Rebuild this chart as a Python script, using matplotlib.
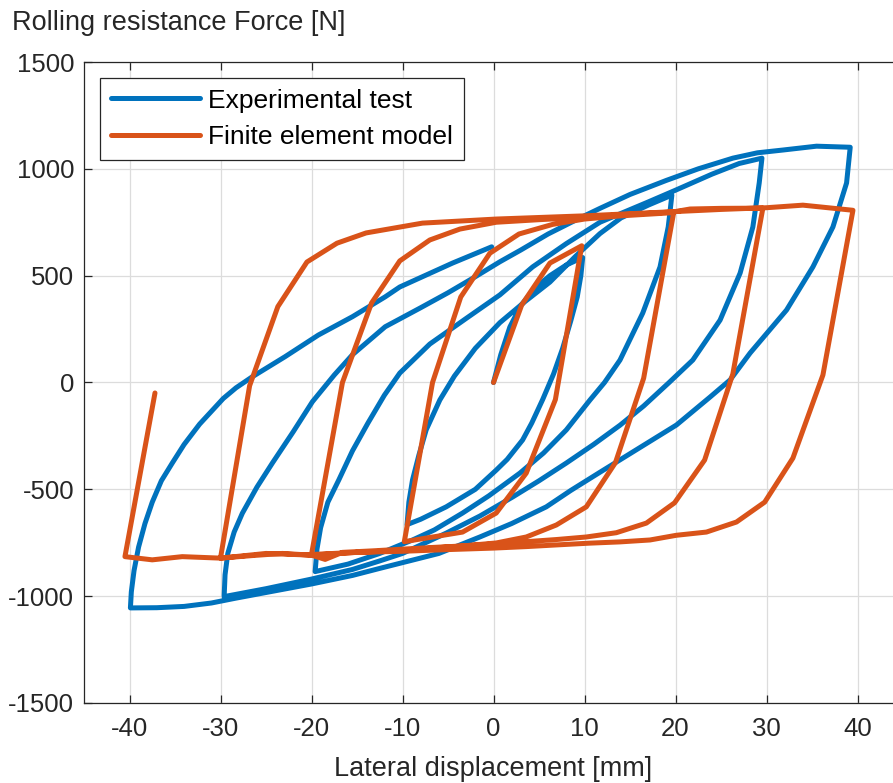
import matplotlib
matplotlib.use("Agg")
import matplotlib.pyplot as plt
import numpy as np

# ---------------- data ----------------
# Experimental test: branches of the hysteresis path (x mm, y N)
exp_initial_x = [0, 0.8, 1.8, 3.0, 4.5, 6.2, 8.0, 9.8]
exp_initial_y = [0, 130, 260, 360, 440, 500, 550, 585]
exp_d10_x = [9.8, 9.6, 9.2, 8.5, 7.6, 6.6, 5.4, 4.2, 3.2, 1.5, 0.3, -2.0, -5.2, -8.0, -9.5]
exp_d10_y = [585, 500, 400, 290, 160, 40, -80, -190, -269, -360, -410, -500, -582, -640, -665]
exp_a20_x = [-9.5, -9.3, -8.9, -8.2, -7.4, -5.9, -4.3, -2.0, 0.7, 3.5, 6.2, 9.0, 11.7, 14.0, 17.0, 19.6]
exp_a20_y = [-665, -560, -456, -340, -222, -82, 30, 160, 280, 380, 470, 590, 697, 770, 830, 877]
exp_d20_x = [19.6, 19.4, 19.2, 18.3, 16.4, 13.9, 12.2, 10.6, 8.0, 5.5, 2.9, -0.5, -3.4, -6.5, -8.9, -12.5, -16.0, -19.6]
exp_d20_y = [877, 800, 728, 541, 325, 105, 0, -82, -222, -330, -424, -530, -611, -690, -737, -800, -850, -885]
exp_a30_x = [-19.6, -19.4, -19.0, -18.2, -17.0, -15.5, -13.8, -12.0, -10.3, -7.0, -3.0, 0.7, 4.3, 8.0, 11.7, 14.5, 17.0, 20.0, 24.0, 27.0, 29.5]
exp_a30_y = [-885, -780, -680, -560, -456, -320, -190, -60, 44, 180, 300, 410, 541, 650, 750, 800, 845, 900, 975, 1025, 1050]
exp_d30_x = [29.5, 29.2, 28.5, 27.1, 24.9, 21.9, 19.3, 16.5, 13.9, 11.0, 8.0, 5.0, 2.1, -1.5, -5.2, -10.0, -12.5, -15.5, -20.0, -25.0, -29.6]
exp_d30_y = [1050, 934, 728, 512, 292, 105, 0, -110, -200, -290, -377, -460, -536, -625, -705, -800, -835, -875, -920, -965, -1002]
exp_a40_x = [-29.6, -29.5, -29.2, -28.5, -27.6, -26.0, -24.3, -22.0, -19.9, -17.5, -15.5, -11.9, -8.0, -5.0, -2.0, 0.7, 3.0, 6.0, 9.5, 11.7, 15.0, 19.0, 22.5, 26.3, 29.0, 31.8, 35.5, 39.2]
exp_a40_y = [-1002, -900, -800, -700, -612, -490, -377, -230, -90, 35, 130, 261, 350, 420, 495, 565, 620, 695, 770, 815, 880, 946, 1000, 1050, 1075, 1088, 1106, 1101]
exp_d40_x = [39.2, 38.8, 37.3, 35.1, 32.2, 28.2, 26.0, 23.8, 20.1, 15.3, 11.7, 8.5, 5.8, 2.0, -1.5, -6.0, -12.5, -15.5, -20.0, -25.0, -28.4, -31.0, -34.0, -37.0, -39.9]
exp_d40_y = [1101, 934, 728, 541, 339, 138, 12, -68, -199, -325, -420, -505, -582, -660, -723, -800, -870, -903, -943, -983, -1010, -1032, -1048, -1054, -1055]
exp_a0_x = [-39.9, -39.8, -39.5, -39.0, -38.3, -37.5, -36.5, -35.3, -34.0, -32.3, -31.0, -29.7, -28.3, -26.5, -22.9, -19.25, -15.5, -11.9, -10.3, -4.5, -0.2]
exp_a0_y = [-1055, -980, -880, -770, -660, -560, -460, -377, -290, -195, -135, -75, -25, 27, 121, 222, 308, 401, 447, 559, 635]

# Finite element model: polyline vertices (x mm, y N)
fem_x = [0, 3.1, 6.2, 9.7, 6.8, 3.6, 0.3, -3.4, -9.8,
         -6.7, -3.6, -0.4, 2.8, 6.5, 10.0, 14.0, 19.8,
         16.5, 13.4, 10.2, 6.9, 3.6, 0.3, -3.4, -6.7, -10.0, -13.3, -16.6, -20.0,
         -16.6, -13.4, -10.3, -7.0, -3.7, 0.3, 5.0, 9.5, 14.0, 19.7, 21.6, 25.0, 29.6,
         26.3, 23.2, 19.9, 16.8, 13.5, 10.2, 6.9, 3.6, 0.3, -3.4, -6.7, -10.0, -13.3, -16.6, -18.5, -20.0, -23.2, -26.5, -30.0,
         -26.8, -23.7, -20.5, -17.2, -14.0, -7.8, 0.3, 10.0, 20.0, 25.0, 30.0, 34.0, 39.5,
         36.2, 32.9, 29.8, 26.7, 23.4, 20.1, 17.2, 13.9, 10.5, 7.0, 3.6, 0.0, -5.0, -10.0, -15.0, -20.0, -25.0, -30.0, -34.2, -37.5, -40.5,
         -37.2]
fem_y = [0, 363, 559, 640, -80, -424, -611, -700, -745,
         0, 400, 605, 695, 740, 765, 780, 795,
         20, -375, -582, -667, -723, -751, -765, -775, -785, -792, -798, -805,
         0, 372, 569, 667, 718, 750, 762, 772, 785, 798, 812, 815, 816,
         40, -363, -563, -658, -703, -723, -735, -745, -755, -765, -772, -780, -788, -795, -828, -808, -800, -810, -822,
         -15, 355, 564, 652, 700, 746, 765, 780, 800, 810, 818, 830, 806,
         35, -354, -560, -653, -700, -715, -737, -746, -752, -760, -768, -775, -782, -790, -795, -808, -800, -822, -815, -830, -815,
         -49]

x_ticks = [-40, -30, -20, -10, 0, 10, 20, 30, 40]
y_ticks = [-1500, -1000, -500, 0, 500, 1000, 1500]

# ---------------- figure ----------------
plt.rcParams['font.family'] = ['Liberation Sans', 'DejaVu Sans']
W, H = 893, 783
fig = plt.figure(figsize=(W / 100, H / 100), dpi=100)
l, r, t, b = 84, 903, 62, 703
ax = fig.add_axes([l / W, 1 - b / H, (r - l) / W, (b - t) / H])

blue = '#0072BD'
orange = '#D95319'
txt = '#262626'

exp_x = np.concatenate([exp_initial_x, exp_d10_x, exp_a20_x, exp_d20_x, exp_a30_x,
                        exp_d30_x, exp_a40_x, exp_d40_x, exp_a0_x])
exp_y = np.concatenate([exp_initial_y, exp_d10_y, exp_a20_y, exp_d20_y, exp_a30_y,
                        exp_d30_y, exp_a40_y, exp_d40_y, exp_a0_y])

ax.plot(exp_x, exp_y, color=blue, lw=3.6, solid_joinstyle='round', solid_capstyle='round',
        label='Experimental test', zorder=3)
ax.plot(fem_x, fem_y, color=orange, lw=3.6, solid_joinstyle='round', solid_capstyle='round',
        label='Finite element model', zorder=4)

ax.set_xlim(-45, 45)
ax.set_ylim(-1500, 1500)
ax.set_xticks(x_ticks)
ax.set_yticks(y_ticks)
ax.set_xticklabels([str(v) for v in x_ticks])
ax.set_yticklabels([str(v) for v in y_ticks])
ax.grid(True, color='#dcdcdc', lw=0.9)
ax.set_axisbelow(True)
ax.tick_params(direction='in', length=6, width=0.9, colors=txt, labelsize=18.5,
               top=True, right=False)
ax.tick_params(axis='y', pad=7)
ax.tick_params(axis='x', pad=10)
for s in ['left', 'bottom', 'top']:
    ax.spines[s].set_color(txt)
    ax.spines[s].set_linewidth(0.9)
ax.spines['right'].set_visible(False)

ax.set_xlabel('Lateral displacement [mm]', fontsize=19.5, color=txt, labelpad=11)
fig.text(12 / W, 1 - 23 / H, 'Rolling resistance Force [N]', fontsize=19.5, color=txt,
         ha='left', va='center')

leg = ax.legend(loc='upper left', bbox_to_anchor=((100 - l) / (r - l), (b - 78) / (b - t)),
                borderaxespad=0, fontsize=19, handlelength=3.4, handletextpad=0.3,
                frameon=True, fancybox=False, edgecolor=txt, framealpha=1,
                borderpad=0.4, labelspacing=0.48)
leg.get_frame().set_linewidth(0.9)

fig.savefig('out.png', dpi=100)
